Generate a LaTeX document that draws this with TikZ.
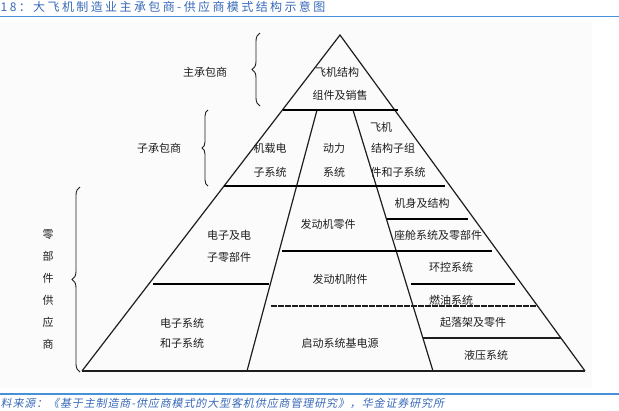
\documentclass[tikz,border=0pt]{standalone}
\usepackage{fontspec}
\newfontfamily\cjk{Noto Sans CJK SC}
\newfontfamily\cjkttl[LetterSpace=20]{Noto Sans CJK SC}
\newfontfamily\cjkcap[FakeSlant=0.2,LetterSpace=8]{Noto Sans CJK SC}
\usetikzlibrary{decorations.pathreplacing}
\definecolor{ttlblue}{RGB}{55,105,185}
\definecolor{rulblue}{RGB}{70,145,215}
\definecolor{ink}{RGB}{30,30,30}
\begin{document}
\begin{tikzpicture}[x=1pt,y=-1pt,
  lbl/.style={font=\cjk\fontsize{11}{13}\selectfont, text=ink, inner sep=0pt},
  edgeline/.style={line width=1.2pt, draw=ink},
  bar/.style={line width=2.6pt, draw=black},
  thinbar/.style={line width=1.2pt, draw=ink},
  brc/.style={decorate, decoration={brace, amplitude=#1}, line width=0.9pt, draw=ink}
]
\useasboundingbox (0,0) rectangle (619,410);
% background panel
\fill[gray!3] (0,22) rectangle (592,388);
% title and rules
\node[anchor=west, inner sep=0pt, text=ttlblue, font=\cjkttl\fontsize{12}{14}\selectfont] (title) at (0.5,7) {18：大飞机制造业主承包商-供应商模式结构示意图};
\draw[rulblue, line width=1.3pt] (0,16.5) -- (619,16.5);
\draw[rulblue, line width=1.1pt] (0,394) -- (619,394);
\node[anchor=west, inner sep=0pt, text=ttlblue, font=\cjkcap\fontsize{11}{13}\selectfont] (caption) at (0.5,403) {料来源：《基于主制造商-供应商模式的大型客机供应商管理研究》，华金证券研究所};

% pyramid
\coordinate (apex) at (340,35);
\coordinate (bl) at (82,371);
\coordinate (br) at (585,371);
\coordinate (li1) at (317,110);
\coordinate (li2) at (247,371);
\coordinate (ri1) at (353,110);
\coordinate (ri2) at (433,371);
\draw[edgeline] (bl) -- (apex) -- (br);
\draw[line width=1.8pt, draw=ink] (bl) -- (br);
\draw[edgeline] (li1) -- (li2);
\draw[edgeline] (ri1) -- (ri2);

% horizontal bars
\coordinate (b1a) at (283,110); \coordinate (b1b) at (398,110);
\coordinate (b2a) at (224,186); \coordinate (b2b) at (445,186);
\coordinate (b3a) at (153,284); \coordinate (b3b) at (269,284);
\coordinate (b4a) at (282,251); \coordinate (b4b) at (492,251);
\coordinate (b5a) at (387,219); \coordinate (b5b) at (468,219);
\coordinate (b6a) at (411,284); \coordinate (b6b) at (515,284);
\coordinate (d1a) at (271,306); \coordinate (d1b) at (538,306);
\coordinate (t1a) at (423,338); \coordinate (t1b) at (561,338);
\draw[bar] (b1a) -- (b1b);
\draw[bar] (b2a) -- (b2b);
\draw[bar] (b3a) -- (b3b);
\draw[bar] (b4a) -- (b4b);
\draw[bar] (b5a) -- (b5b);
\draw[bar] (b6a) -- (b6b);
\draw[thinbar, dash pattern=on 6pt off 1pt] (d1a) -- (d1b);
\draw[thinbar] (t1a) -- (t1b);

% braces
\coordinate (br1a) at (260,106); \coordinate (br1b) at (260,33);
\coordinate (br2a) at (208,186); \coordinate (br2b) at (208,110);
\coordinate (br3a) at (80,372); \coordinate (br3b) at (80,187);
\draw[brc=8pt] (br1a) -- (br1b);
\draw[brc=6pt] (br2a) -- (br2b);
\draw[brc=8pt] (br3a) -- (br3b);

% side labels
\node[lbl] (main) at (205,72) {主承包商};
\node[lbl] (sub) at (159,148) {子承包商};
\node[lbl, align=center, font=\cjk\fontsize{11}{22}\selectfont] (parts) at (48,290) {零\\部\\件\\供\\应\\商};

% pyramid labels
\node[lbl] (a1) at (337,72) {飞机结构};
\node[lbl] (a2) at (340,95) {组件及销售};
\node[lbl] (c1) at (270,148) {机载电};
\node[lbl] (c2) at (270,172) {子系统};
\node[lbl] (d1) at (334,148) {动力};
\node[lbl] (d2) at (334,172) {系统};
\node[lbl] (e1) at (381,127) {飞机};
\node[lbl] (e2) at (393,148) {结构子组};
\node[lbl] (e3) at (398,172) {件和子系统};
\node[lbl] (f1) at (229,235) {电子及电};
\node[lbl] (f2) at (229,257) {子零部件};
\node[lbl] (g1) at (182,323) {电子系统};
\node[lbl] (g2) at (182,343) {和子系统};
\node[lbl] (h1) at (328,224) {发动机零件};
\node[lbl] (h2) at (340,279) {发动机附件};
\node[lbl] (h3) at (340,343) {启动系统基电源};
\node[lbl] (k1) at (422,203) {机身及结构};
\node[lbl] (k2) at (438,235) {座舱系统及零部件};
\node[lbl] (k3) at (451,267) {环控系统};
\node[lbl] (k4) at (451,300) {燃油系统};
\node[lbl] (k5) at (473,322) {起落架及零件};
\node[lbl] (k6) at (486,355) {液压系统};
\end{tikzpicture}
\end{document}
